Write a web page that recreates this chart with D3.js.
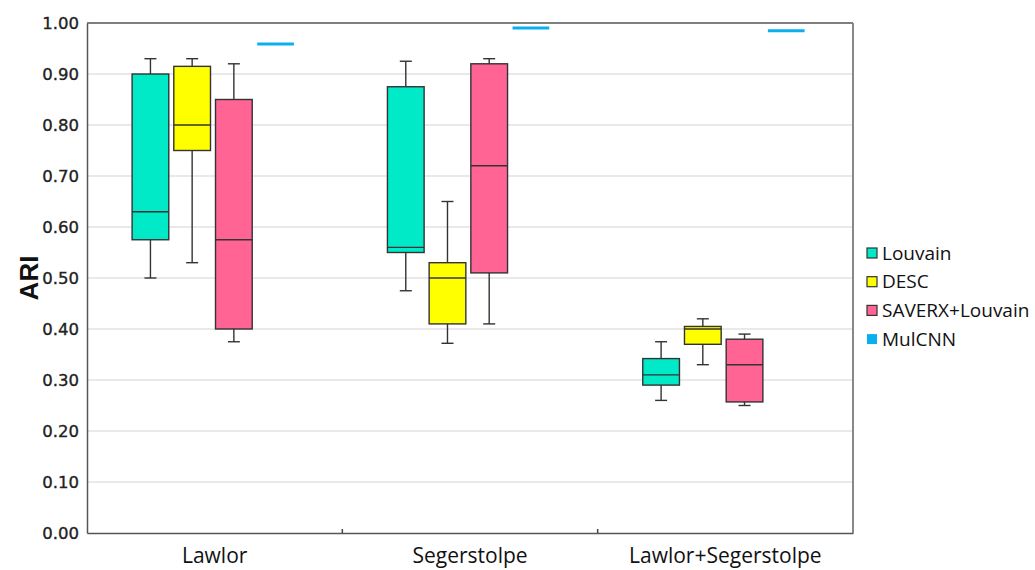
<!DOCTYPE html>
<html>
<head>
<meta charset="utf-8">
<script src="https://cdn.jsdelivr.net/npm/d3@7"></script>
<style>
  body { margin: 0; background: #fff; }
</style>
</head>
<body>
<div id="chart"></div>
<script>
let datasets = ["Lawlor", "Segerstolpe", "Lawlor+Segerstolpe"]
let methods = ["Louvain", "DESC", "SAVERX+Louvain", "MulCNN"]
let colors = ["#00EAC8", "#FFFF00", "#FF6495", "#0AB0EE"]

// box stats per dataset: [min, q1, median, q3, max]
let louvain = [[0.50, 0.575, 0.63, 0.90, 0.93], [0.475, 0.55, 0.56, 0.875, 0.925], [0.26, 0.29, 0.31, 0.342, 0.375]]
let desc = [[0.53, 0.75, 0.80, 0.915, 0.93], [0.372, 0.41, 0.50, 0.53, 0.65], [0.33, 0.37, 0.40, 0.405, 0.42]]
let saverx = [[0.375, 0.40, 0.575, 0.85, 0.92], [0.41, 0.51, 0.72, 0.92, 0.93], [0.25, 0.257, 0.33, 0.38, 0.39]]
// MulCNN is a single value per dataset
let mulcnn = [0.959, 0.99, 0.985]

let yTicks = [0, 0.1, 0.2, 0.3, 0.4, 0.5, 0.6, 0.7, 0.8, 0.9, 1.0]

let margin = {top: 23, right: 182, bottom: 37, left: 87},
  width = 1035 - margin.left - margin.right,
  height = 570 - margin.top - margin.bottom;

let svg = d3.select("#chart")
  .append("svg")
    .attr("width", 1035)
    .attr("height", 570)
  .append("g")
    .attr("transform", "translate(" + margin.left + "," + margin.top + ")");

let x = d3.scaleBand()
  .domain(datasets)
  .range([0, width])
  .padding(0);

let bw = x.bandwidth();
let xSub = d3.scaleBand()
  .domain(methods)
  .range([bw * 0.157, bw * 0.83])
  .padding(0.12);

let y = d3.scaleLinear()
  .domain([0, 1])
  .range([height, 0]);

// grid
svg.append("g")
  .selectAll("line")
  .data(yTicks.filter(d => d > 0 && d < 1))
  .enter().append("line")
    .attr("x1", 0)
    .attr("x2", width)
    .attr("y1", d => y(d))
    .attr("y2", d => y(d))
    .style("stroke", "#e2e2e2")
    .style("stroke-width", 1.5);

// frame: top and right
svg.append("line")
  .attr("x1", 0).attr("x2", width).attr("y1", 0).attr("y2", 0)
  .style("stroke", "#555").style("stroke-width", 1.5);
svg.append("line")
  .attr("x1", width).attr("x2", width).attr("y1", 0).attr("y2", height)
  .style("stroke", "#888").style("stroke-width", 2);

// y axis
svg.append("g")
  .call(d3.axisLeft(y).tickValues(yTicks).tickSize(0).tickPadding(8).tickFormat(d3.format(".2f")))
  .call(g => g.select(".domain").style("stroke", "#555").style("stroke-width", 1.5))
  .selectAll("text")
    .style("font-family", "DejaVu Sans")
    .style("font-size", "16.5px")
    .style("fill", "#222")
    .style("stroke", "#222")
    .style("stroke-width", 0.35);

// x axis
svg.append("g")
  .attr("transform", "translate(0," + height + ")")
  .call(d3.axisBottom(x).tickSize(0).tickPadding(15))
  .call(g => g.select(".domain").style("stroke", "#555").style("stroke-width", 1.5))
  .selectAll("text")
    .style("font-family", "Open Sans")
    .style("font-size", "21px")
    .style("fill", "#111");

// small separator ticks between datasets
svg.append("g")
  .selectAll("line")
  .data(datasets.slice(1))
  .enter().append("line")
    .attr("x1", d => x(d))
    .attr("x2", d => x(d))
    .attr("y1", height - 4)
    .attr("y2", height)
    .style("stroke", "#444")
    .style("stroke-width", 1.5);

svg.append("text")
  .attr("transform", "translate(-49," + (height / 2) + ") rotate(-90)")
  .attr("text-anchor", "middle")
  .style("font-family", "Liberation Sans")
  .style("font-weight", "bold")
  .style("font-size", "26px")
  .style("fill", "#111")
  .text("ARI");

// boxes
let boxSeries = [louvain, desc, saverx];
let boxData = [];
boxSeries.forEach(function(s, mi) {
  s.forEach(function(v, di) {
    boxData.push({dataset: datasets[di], method: methods[mi], color: colors[mi],
      min: v[0], q1: v[1], med: v[2], q3: v[3], max: v[4]});
  });
});

let boxes = svg.selectAll(".box")
  .data(boxData)
  .enter().append("g")
    .attr("class", "box")
    .attr("transform", d => "translate(" + (x(d.dataset) + xSub(d.method)) + ",0)");

let sw = xSub.bandwidth();

boxes.append("line")
  .attr("x1", sw / 2).attr("x2", sw / 2)
  .attr("y1", d => y(d.max)).attr("y2", d => y(d.min))
  .style("stroke", "#333").style("stroke-width", 1.4);

boxes.selectAll(".cap")
  .data(d => [d.min, d.max])
  .enter().append("line")
    .attr("x1", sw / 2 - 6).attr("x2", sw / 2 + 6)
    .attr("y1", d => y(d)).attr("y2", d => y(d))
    .style("stroke", "#333").style("stroke-width", 1.4);

boxes.append("rect")
  .attr("x", 0)
  .attr("width", sw)
  .attr("y", d => y(d.q3))
  .attr("height", d => y(d.q1) - y(d.q3))
  .style("fill", d => d.color)
  .style("stroke", "#333")
  .style("stroke-width", 1.4);

boxes.append("line")
  .attr("x1", 0).attr("x2", sw)
  .attr("y1", d => y(d.med)).attr("y2", d => y(d.med))
  .style("stroke", "#333").style("stroke-width", 1.4);

// MulCNN single-value lines
svg.selectAll(".mul")
  .data(mulcnn)
  .enter().append("line")
    .attr("class", "mul")
    .attr("x1", (d, i) => x(datasets[i]) + xSub("MulCNN"))
    .attr("x2", (d, i) => x(datasets[i]) + xSub("MulCNN") + sw)
    .attr("y1", d => y(d))
    .attr("y2", d => y(d))
    .style("stroke", colors[3])
    .style("stroke-width", 3);

// legend
let legend = svg.append("g")
  .attr("transform", "translate(" + (width + 14) + ",230)");

let item = legend.selectAll(".item")
  .data(methods)
  .enter().append("g")
    .attr("class", "item")
    .attr("transform", (d, i) => "translate(0," + (i * 28.7) + ")");

item.append("rect")
  .attr("x", 0).attr("y", -5)
  .attr("width", 10).attr("height", 10)
  .style("fill", (d, i) => colors[i])
  .style("stroke", (d, i) => i < 3 ? "#333" : "none")
  .style("stroke-width", 1.2);

item.append("text")
  .attr("x", 15)
  .attr("y", 0)
  .attr("dy", "0.35em")
  .style("font-family", "Open Sans")
  .style("font-size", "19px")
  .style("fill", "#111")
  .text(d => d);
</script>
</body>
</html>
